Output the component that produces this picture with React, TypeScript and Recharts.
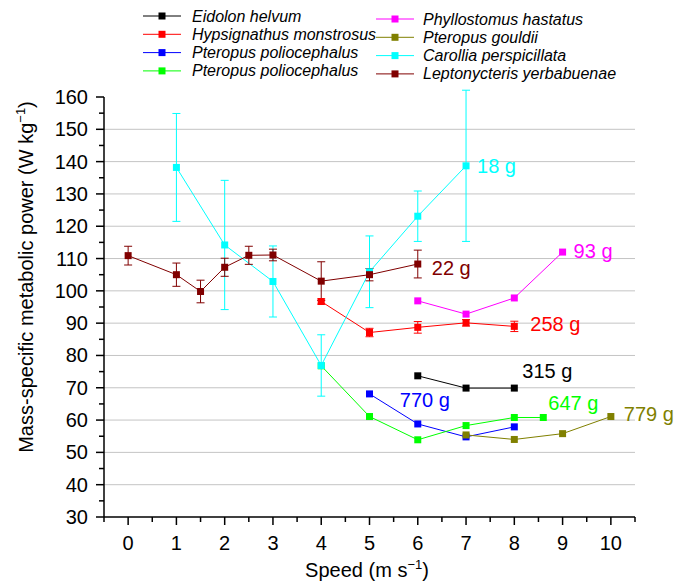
import { CartesianGrid, ErrorBar, Line, LineChart, XAxis, YAxis } from "recharts";

// values (speed in m/s, power in W/kg)
const eidolonSpeed = [6, 7, 8];
const eidolonPower = [73.7, 69.9, 69.9];

const hypsignathusSpeed = [4, 5, 6, 7, 8];
const hypsignathusPower = [96.7, 87.1, 88.7, 90.1, 89.0];
const hypsignathusSd = [0.8, 1.3, 1.8, 1.0, 1.6];

const poliocephalusASpeed = [5, 6, 7, 8];
const poliocephalusAPower = [68.1, 58.8, 54.8, 57.9];

const poliocephalusBSpeed = [4, 5, 6, 7, 8, 8.6];
const poliocephalusBPower = [76.8, 61.1, 53.9, 58.3, 60.8, 60.8];

const phyllostomusSpeed = [6, 7, 8, 9];
const phyllostomusPower = [96.9, 92.8, 97.8, 112.0];

const gouldiiSpeed = [7, 8, 9, 10];
const gouldiiPower = [55.4, 54.0, 55.8, 61.1];

const carolliaSpeed = [1, 2, 3, 4, 5, 6, 7];
const carolliaPower = [138.2, 114.2, 102.9, 76.9, 105.9, 123.1, 138.7];
const carolliaSd = [16.7, 20.0, 11.0, 9.5, 11.1, 7.8, 23.4];

const leptonycterisSpeed = [0, 1, 1.5, 2, 2.5, 3, 4, 5, 6];
const leptonycterisPower = [110.9, 105.0, 99.8, 107.3, 111.0, 111.1, 103.0, 105.0, 108.3];
const leptonycterisSd = [2.9, 3.6, 3.5, 2.8, 2.8, 1.8, 6.0, 1.9, 4.3];

const speedTicks = [-0.5, 0, 0.5, 1, 1.5, 2, 2.5, 3, 3.5, 4, 4.5, 5, 5.5, 6, 6.5, 7, 7.5, 8, 8.5, 9, 9.5, 10, 10.5];
const powerTicks = [30, 35, 40, 45, 50, 55, 60, 65, 70, 75, 80, 85, 90, 95, 100, 105, 110, 115, 120, 125, 130, 135, 140, 145, 150, 155, 160];
const gridValues = [40, 50, 60, 70, 80, 90, 100, 110, 120, 130, 140, 150];

const FONT = "'Liberation Sans', Arial, sans-serif";

const toPoints = (xs: number[], ys: number[], sd?: number[]) =>
  xs.map((x, i) => ({ x, y: ys[i], sd: sd ? sd[i] : 0 }));

interface Series {
  name: string;
  color: string;
  data: { x: number; y: number; sd: number }[];
  errors?: boolean;
  tag: string;
  tagAt: number;
  dx: number;
  dy: number;
}

const series: Series[] = [
  { name: "Eidolon helvum", color: "#000000", data: toPoints(eidolonSpeed, eidolonPower), tag: "315 g", tagAt: 2, dx: 8, dy: -10 },
  { name: "Hypsignathus monstrosus", color: "#ff0000", data: toPoints(hypsignathusSpeed, hypsignathusPower, hypsignathusSd), errors: true, tag: "258 g", tagAt: 4, dx: 16, dy: 5 },
  { name: "Pteropus poliocephalus", color: "#0000ff", data: toPoints(poliocephalusASpeed, poliocephalusAPower), tag: "770 g", tagAt: 1, dx: -18, dy: -17 },
  { name: "Pteropus poliocephalus", color: "#00ff00", data: toPoints(poliocephalusBSpeed, poliocephalusBPower), tag: "647 g", tagAt: 5, dx: 5, dy: -7 },
  { name: "Phyllostomus hastatus", color: "#ff00ff", data: toPoints(phyllostomusSpeed, phyllostomusPower), tag: "93 g", tagAt: 3, dx: 11, dy: 6 },
  { name: "Pteropus gouldii", color: "#808000", data: toPoints(gouldiiSpeed, gouldiiPower), tag: "779 g", tagAt: 3, dx: 13, dy: 4 },
  { name: "Carollia perspicillata", color: "#00ffff", data: toPoints(carolliaSpeed, carolliaPower, carolliaSd), errors: true, tag: "18 g", tagAt: 6, dx: 11, dy: 7 },
  { name: "Leptonycteris yerbabuenae", color: "#800000", data: toPoints(leptonycterisSpeed, leptonycterisPower, leptonycterisSd), errors: true, tag: "22 g", tagAt: 8, dx: 14, dy: 11 },
];

function SpeedTick({ x, y, payload }: any) {
  const v = payload.value;
  const major = Number.isInteger(v);
  return (
    <g>
      <line x1={x} x2={x} y1={y} y2={y + (major ? 8 : 5)} stroke="#000" strokeWidth={1.5} />
      {major && (
        <text x={x} y={y + 33} textAnchor="middle" fontSize={20} fontFamily={FONT} fill="#000">
          {v}
        </text>
      )}
    </g>
  );
}

function PowerTick({ x, y, payload }: any) {
  const v = payload.value;
  const major = v % 10 === 0;
  return (
    <g>
      <line x1={x} x2={x - (major ? 8 : 5)} y1={y} y2={y} stroke="#000" strokeWidth={1.5} />
      {major && (
        <text x={x - 16} y={y + 7} textAnchor="end" fontSize={20} fontFamily={FONT} fill="#000">
          {v}
        </text>
      )}
    </g>
  );
}

const squareDot = (color: string) => (p: any) => (
  <rect key={`d-${p.index}`} x={p.cx - 3.5} y={p.cy - 3.5} width={7} height={7} fill={color} />
);

const tagLabel = (s: Series) => (p: any) =>
  p.index === s.tagAt ? (
    <text key="tag" x={p.x + s.dx} y={p.y + s.dy} fontSize={20} fontFamily={FONT} fill={s.color}>
      {s.tag}
    </text>
  ) : (
    <g key={`t-${p.index}`} />
  );

function Legend() {
  const cols = [
    { lineX: 143, textX: 192, top: 16 },
    { lineX: 376, textX: 423, top: 19 },
  ];
  return (
    <svg width={683} height={90} style={{ position: "absolute", left: 0, top: 0, pointerEvents: "none" }}>
      {series.map((s, i) => {
        const c = cols[Math.floor(i / 4)];
        const y = c.top + (i % 4) * 18.3;
        return (
          <g key={i}>
            <line x1={c.lineX} x2={c.lineX + 38} y1={y} y2={y} stroke={s.color} strokeWidth={1} />
            <rect x={c.lineX + 15.5} y={y - 3.5} width={7} height={7} fill={s.color} />
            <text x={c.textX} y={y + 5.5} fontSize={16} fontStyle="italic" fontFamily={FONT} fill="#000">
              {s.name}
            </text>
          </g>
        );
      })}
    </svg>
  );
}

export default function App() {
  return (
    <div style={{ position: "absolute", left: 0, top: 0, width: 683, height: 582, background: "#fff" }}>
      <LineChart width={683} height={582} margin={{ top: 97, right: 48, bottom: 0, left: 0 }}>
        <CartesianGrid vertical={false} horizontalValues={gridValues} stroke="#c4c4c4" strokeWidth={1} />
        <XAxis
          type="number"
          dataKey="x"
          domain={[-0.5, 10.5]}
          ticks={speedTicks}
          interval={0}
          allowDataOverflow
          height={65}
          tickSize={0}
          tickMargin={0}
          tick={<SpeedTick />}
          axisLine={{ stroke: "#000", strokeWidth: 1.5 }}
          label={{
            content: () => (
              <text x={367} y={577} textAnchor="middle" fontSize={20} fontFamily={FONT} fill="#000">
                Speed (m s
                <tspan fontSize={13} dy={-8}>−1</tspan>
                <tspan dy={8}>)</tspan>
              </text>
            ),
          }}
        />
        <YAxis
          type="number"
          domain={[30, 160]}
          ticks={powerTicks}
          interval={0}
          allowDataOverflow
          width={104}
          tickSize={0}
          tickMargin={0}
          tick={<PowerTick />}
          axisLine={{ stroke: "#000", strokeWidth: 1.5 }}
          label={{
            content: () => (
              <text
                x={33}
                y={277}
                transform="rotate(-90 33 277)"
                textAnchor="middle"
                fontSize={20}
                fontFamily={FONT}
                fill="#000"
              >
                Mass-specific metabolic power (W kg
                <tspan fontSize={13} dy={-8}>−1</tspan>
                <tspan dy={8}>)</tspan>
              </text>
            ),
          }}
        />
        {series.map((s, i) => (
          <Line
            key={i}
            data={s.data}
            dataKey="y"
            type="linear"
            stroke={s.color}
            strokeWidth={1}
            dot={squareDot(s.color)}
            activeDot={false}
            label={tagLabel(s)}
            isAnimationActive={false}
          >
            {s.errors && <ErrorBar dataKey="sd" direction="y" width={4} stroke={s.color} strokeWidth={1} />}
          </Line>
        ))}
      </LineChart>
      <Legend />
    </div>
  );
}
